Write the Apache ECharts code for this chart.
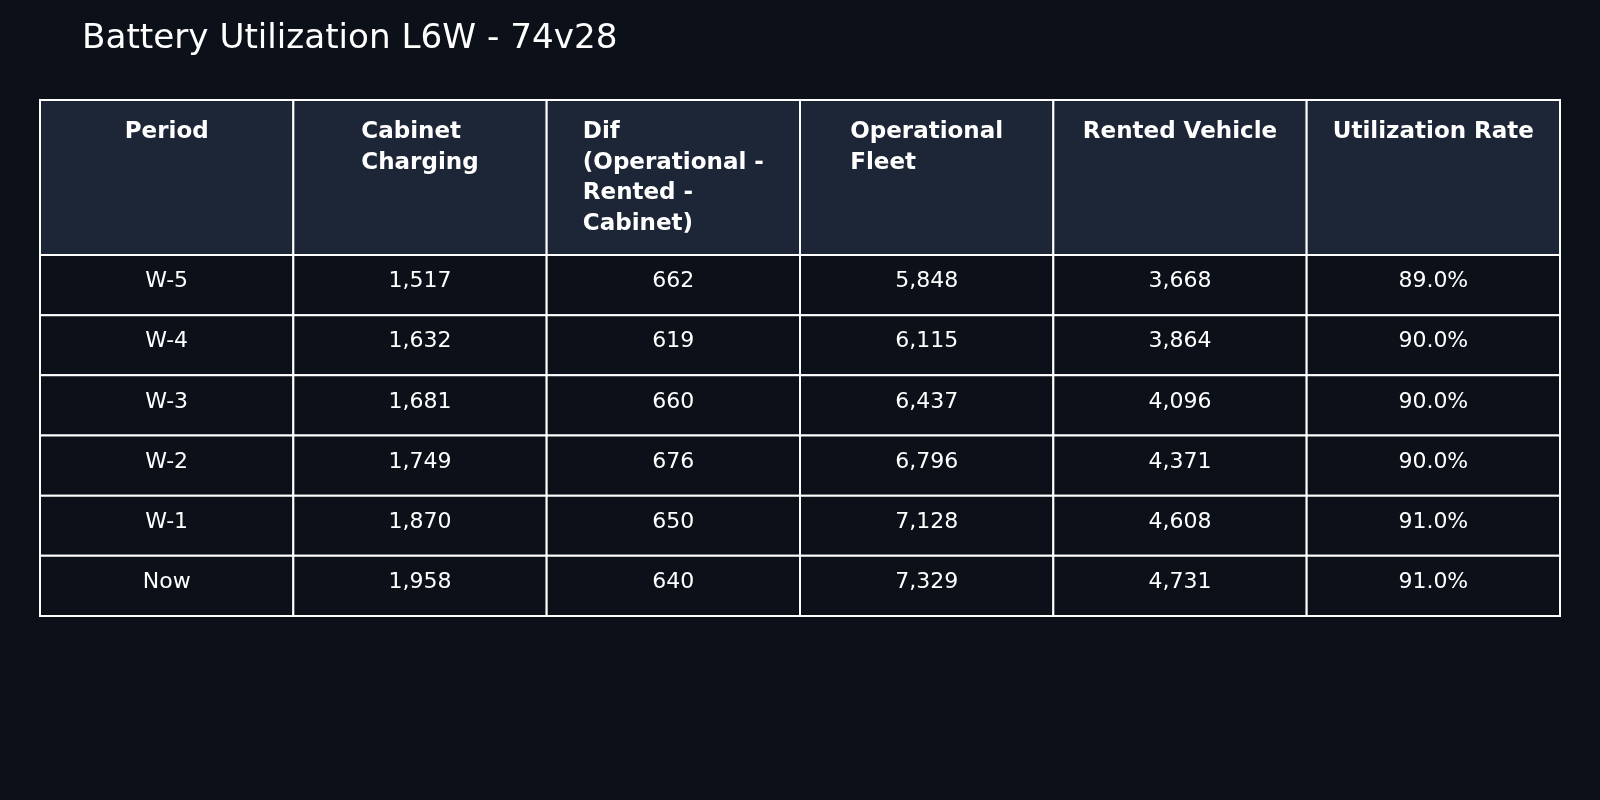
<!DOCTYPE html>
<html>
<head>
<meta charset="utf-8">
<script src="https://cdn.jsdelivr.net/npm/echarts@6/dist/echarts.min.js"></script>
<style>
  html, body { margin: 0; padding: 0; background: #0c1119; }
  #myCharts { width: 1600px; height: 800px; }
</style>
</head>
<body>
<div id="myCharts"></div>
<script>
// table contents
const headers = ['Period', 'Cabinet\nCharging', 'Dif\n(Operational -\nRented -\nCabinet)', 'Operational\nFleet', 'Rented Vehicle', 'Utilization Rate'];
const periods = ['W-5', 'W-4', 'W-3', 'W-2', 'W-1', 'Now'];
const cabinetCharging = [1517, 1632, 1681, 1749, 1870, 1958];
const difValues = [662, 619, 660, 676, 650, 640];
const operationalFleet = [5848, 6115, 6437, 6796, 7128, 7329];
const rentedVehicle = [3668, 3864, 4096, 4371, 4608, 4731];
const utilizationRate = [89.0, 90.0, 90.0, 90.0, 91.0, 91.0];

const HEADER_ROWS = 2.576; // header height measured in body-row units
const FONT = '"DejaVu Sans", Verdana, sans-serif';

function fmtInt(v) { return v.toLocaleString('en-US'); }
function fmtPct(v) { return v.toFixed(1) + '%'; }

// build cell list: row -1 is the header
let cells = [];
headers.forEach((h, c) => cells.push({ col: c, row: -1, text: h }));
periods.forEach((p, r) => {
  let rowVals = [p, fmtInt(cabinetCharging[r]), fmtInt(difValues[r]), fmtInt(operationalFleet[r]), fmtInt(rentedVehicle[r]), fmtPct(utilizationRate[r])];
  rowVals.forEach((t, c) => cells.push({ col: c, row: r, text: t }));
});

const measureCtx = document.createElement('canvas').getContext('2d');
function blockWidth(text, font) {
  measureCtx.font = font;
  return Math.max(...text.split('\n').map(l => measureCtx.measureText(l).width));
}

function renderItem(params, api) {
  let cell = cells[params.dataIndex];
  let c = api.value(0), r = api.value(1);
  let isHeader = r < 0;
  let top = isHeader ? -HEADER_ROWS : r;
  let bottom = isHeader ? 0 : r + 1;
  let p0 = api.coord([c, top]);
  let p1 = api.coord([c + 1, bottom]);
  let x = p0[0], y = p0[1], w = p1[0] - p0[0], h = p1[1] - p0[1];
  let cx = x + w / 2;
  let textEl;
  if (isHeader) {
    let font = 'bold 23px ' + FONT;
    let bw = blockWidth(cell.text, font);
    textEl = {
      type: 'text',
      style: {
        x: cx - bw / 2, y: y + 17,
        text: cell.text,
        fill: '#ffffff',
        font: font,
        lineHeight: 30.5,
        align: 'left',
        verticalAlign: 'top'
      }
    };
  } else {
    textEl = {
      type: 'text',
      style: {
        x: cx, y: y + 26.5,
        text: cell.text,
        fill: '#ffffff',
        font: '22px ' + FONT,
        align: 'center',
        verticalAlign: 'middle'
      }
    };
  }
  return {
    type: 'group',
    children: [
      {
        type: 'rect',
        shape: { x: x, y: y, width: w, height: h },
        style: { fill: isHeader ? '#1d2636' : '#0b1019', stroke: '#ffffff', lineWidth: 2 }
      },
      textEl
    ]
  };
}

let option = {
  backgroundColor: '#0c1119',
  animation: false,
  title: {
    text: 'Battery Utilization L6W - 74v28',
    left: 77,
    top: 17,
    textStyle: { color: '#ffffff', fontSize: 34.2, fontWeight: 'normal', fontFamily: FONT }
  },
  grid: { left: 40, right: 40, top: 100, bottom: 184 },
  xAxis: { type: 'value', min: 0, max: headers.length, show: false },
  yAxis: { type: 'value', min: -HEADER_ROWS, max: periods.length, inverse: true, show: false },
  series: [{
    type: 'custom',
    renderItem: renderItem,
    data: cells.map(d => [d.col, d.row]),
    clip: false
  }]
};

var myChart = echarts.init(document.getElementById('myCharts'));
myChart.setOption(option);
</script>
</body>
</html>
